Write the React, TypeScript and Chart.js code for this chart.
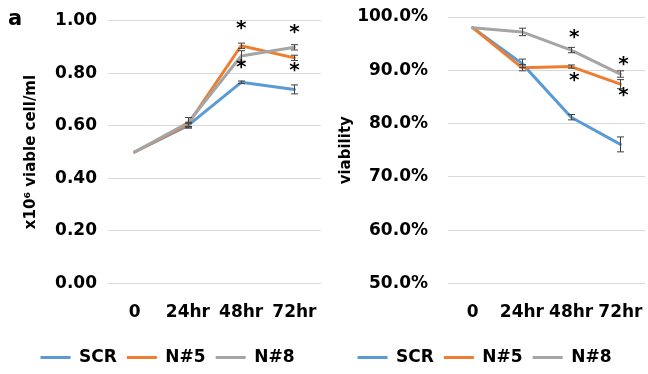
import React, { useEffect, useRef } from 'react';
import { Chart, registerables } from 'chart.js';

Chart.register(...registerables);

// ---------- data ----------
const categories = ['0', '24hr', '48hr', '72hr'];
const seriesNames = ['SCR', 'N#5', 'N#8'];
const seriesColors = ['#5B9BD5', '#ED7D31', '#A5A5A5'];

// panel a-left: x10^6 viable cell/ml
const cellScr = [0.5, 0.6, 0.765, 0.738];
const cellN5 = [0.5, 0.605, 0.904, 0.858];
const cellN8 = [0.5, 0.611, 0.865, 0.898];
const cellScrErr = [0, 0.008, 0.005, 0.017];
const cellN5Err = [0, 0.008, 0.01, 0.01];
const cellN8Err = [0, 0.02, 0.02, 0.01];
const cellStarIdx = [2, 2, 3, 3];
const cellStarVal = [0.973, 0.824, 0.96, 0.812];
const cellTicks = [0, 0.2, 0.4, 0.6, 0.8, 1.0];

// panel a-right: viability (%)
const viaScr = [98.0, 91.3, 81.2, 76.1];
const viaN5 = [98.0, 90.5, 90.7, 87.4];
const viaN8 = [98.0, 97.2, 93.8, 89.3];
const viaScrErr = [0, 0.8, 0.5, 1.4];
const viaN5Err = [0, 0.6, 0.3, 0.85];
const viaN8Err = [0, 0.7, 0.5, 0.6];
const viaStarIdx = [2, 2, 3, 3];
const viaStarVal = [96.3, 88.2, 91.3, 85.4];
const viaTicks = [50, 60, 70, 80, 90, 100];

const FONT = "'DejaVu Sans', sans-serif";

type Panel = {
  values: number[][];
  errors: number[][];
  starIdx: number[];
  starVal: number[];
  ticks: number[];
  fmt: (v: number) => string;
  yTitle: string;
  padLeft: number;
  padTop: number;
  yWidth: number;
  titlePad: number;
  tickPad: number;
  starDx: number;
  panelLabel?: string;
};

function makeOverlay(p: Panel) {
  return {
    id: 'overlay',
    afterDatasetsDraw(chart: any) {
      const { ctx, scales } = chart;
      const xs = scales.x;
      const ys = scales.y;
      ctx.save();
      ctx.strokeStyle = '#404040';
      ctx.lineWidth = 1;
      p.values.forEach((vals, si) => {
        vals.forEach((v, i) => {
          const e = p.errors[si][i];
          if (!e) return;
          const x = Math.round(xs.getPixelForValue(i)) + 0.5;
          const y1 = ys.getPixelForValue(v + e);
          const y2 = ys.getPixelForValue(v - e);
          ctx.beginPath();
          ctx.moveTo(x, y1);
          ctx.lineTo(x, y2);
          ctx.moveTo(x - 3.5, y1);
          ctx.lineTo(x + 3.5, y1);
          ctx.moveTo(x - 3.5, y2);
          ctx.lineTo(x + 3.5, y2);
          ctx.stroke();
        });
      });
      ctx.fillStyle = '#000';
      ctx.font = `bold 20px ${FONT}`;
      ctx.textAlign = 'center';
      ctx.textBaseline = 'alphabetic';
      p.starIdx.forEach((idx, k) => {
        const x = xs.getPixelForValue(idx) + p.starDx;
        const y = ys.getPixelForValue(p.starVal[k]);
        ctx.fillText('*', x, y + 6.5);
      });
      ctx.restore();
    },
    afterDraw(chart: any) {
      if (!p.panelLabel) return;
      const { ctx } = chart;
      ctx.save();
      ctx.fillStyle = '#000';
      ctx.font = `bold 21px ${FONT}`;
      ctx.textAlign = 'left';
      ctx.textBaseline = 'alphabetic';
      ctx.fillText(p.panelLabel, 8, 25);
      ctx.restore();
    },
  };
}

function makeConfig(p: Panel): any {
  const tickFont = { family: FONT, size: 17, weight: 'bold' as const };
  return {
    type: 'line',
    data: {
      labels: categories,
      datasets: p.values.map((v, i) => ({
        label: seriesNames[i],
        data: v,
        borderColor: seriesColors[i],
        backgroundColor: seriesColors[i],
        borderWidth: 3,
        pointRadius: 0,
        pointHoverRadius: 0,
        tension: 0,
        fill: false,
        order: 3 - i,
        borderJoinStyle: 'round',
        borderCapStyle: 'round',
      })),
    },
    options: {
      responsive: false,
      animation: false,
      events: [],
      layout: { padding: { left: p.padLeft, right: 3, top: p.padTop, bottom: 0 } },
      plugins: {
        tooltip: { enabled: false },
        legend: {
          position: 'bottom',
          maxHeight: 35,
          labels: {
            font: tickFont,
            color: '#000',
            boxWidth: 30,
            boxHeight: 3,
            padding: 10,
            sort: (a: any, b: any) => a.datasetIndex - b.datasetIndex,
            generateLabels: (chart: any) => {
              const items = (Chart.defaults as any).plugins.legend.labels.generateLabels(chart);
              return items.map((it: any) => ({ ...it, fillStyle: it.strokeStyle, lineWidth: 0 }));
            },
          },
        },
      },
      scales: {
        x: {
          offset: true,
          grid: { display: false, drawTicks: false },
          border: { display: false },
          ticks: { autoSkip: false, maxRotation: 0, padding: 19, color: '#000', font: tickFont },
          afterFit: (s: any) => {
            s.height = 55.5;
            s.paddingLeft = 0;
            s.paddingRight = 0;
          },
        },
        y: {
          min: p.ticks[0],
          max: p.ticks[p.ticks.length - 1],
          grid: { color: '#D9D9D9', drawTicks: false, lineWidth: 1 },
          border: { display: false },
          ticks: {
            stepSize: p.ticks[1] - p.ticks[0],
            padding: p.tickPad,
            color: '#000',
            font: tickFont,
            callback: (v: any) => p.fmt(Number(v)),
          },
          afterBuildTicks: (s: any) => {
            s.ticks = p.ticks.map((v) => ({ value: v }));
          },
          title: {
            display: true,
            text: p.yTitle,
            color: '#000',
            font: { family: FONT, size: 15, weight: 'bold' },
            padding: { top: p.titlePad, bottom: 0 },
          },
          afterFit: (s: any) => {
            s.width = p.yWidth;
            s.paddingTop = 0;
            s.paddingBottom = 0;
          },
        },
      },
    },
    plugins: [makeOverlay(p)],
  };
}

const leftPanel: Panel = {
  values: [cellScr, cellN5, cellN8],
  errors: [cellScrErr, cellN5Err, cellN8Err],
  starIdx: cellStarIdx,
  starVal: cellStarVal,
  ticks: cellTicks,
  fmt: (v) => v.toFixed(2),
  yTitle: 'x10\u2076 viable cell/ml',
  padLeft: 14,
  padTop: 20.5,
  yWidth: 94,
  titlePad: 8,
  tickPad: 11,
  starDx: 0,
  panelLabel: 'a',
};

const rightPanel: Panel = {
  values: [viaScr, viaN5, viaN8],
  errors: [viaScrErr, viaN5Err, viaN8Err],
  starIdx: viaStarIdx,
  starVal: viaStarVal,
  ticks: viaTicks,
  fmt: (v) => v.toFixed(1) + '%',
  yTitle: 'viability',
  padLeft: 0,
  padTop: 17,
  yWidth: 124,
  titlePad: 13,
  tickPad: 20,
  starDx: 3,
};

export default function App() {
  const leftRef = useRef<HTMLCanvasElement>(null);
  const rightRef = useRef<HTMLCanvasElement>(null);
  useEffect(() => {
    document.body.style.margin = '0';
    const c1 = new Chart(leftRef.current as HTMLCanvasElement, makeConfig(leftPanel));
    const c2 = new Chart(rightRef.current as HTMLCanvasElement, makeConfig(rightPanel));
    return () => {
      c1.destroy();
      c2.destroy();
    };
  }, []);
  return (
    <div style={{ position: 'fixed', left: 0, top: 0, width: 648, height: 374, background: '#fff', display: 'flex' }}>
      <canvas ref={leftRef} width={324} height={374} style={{ display: 'block', width: 324, height: 374 }} />
      <canvas ref={rightRef} width={324} height={374} style={{ display: 'block', width: 324, height: 374 }} />
    </div>
  );
}
